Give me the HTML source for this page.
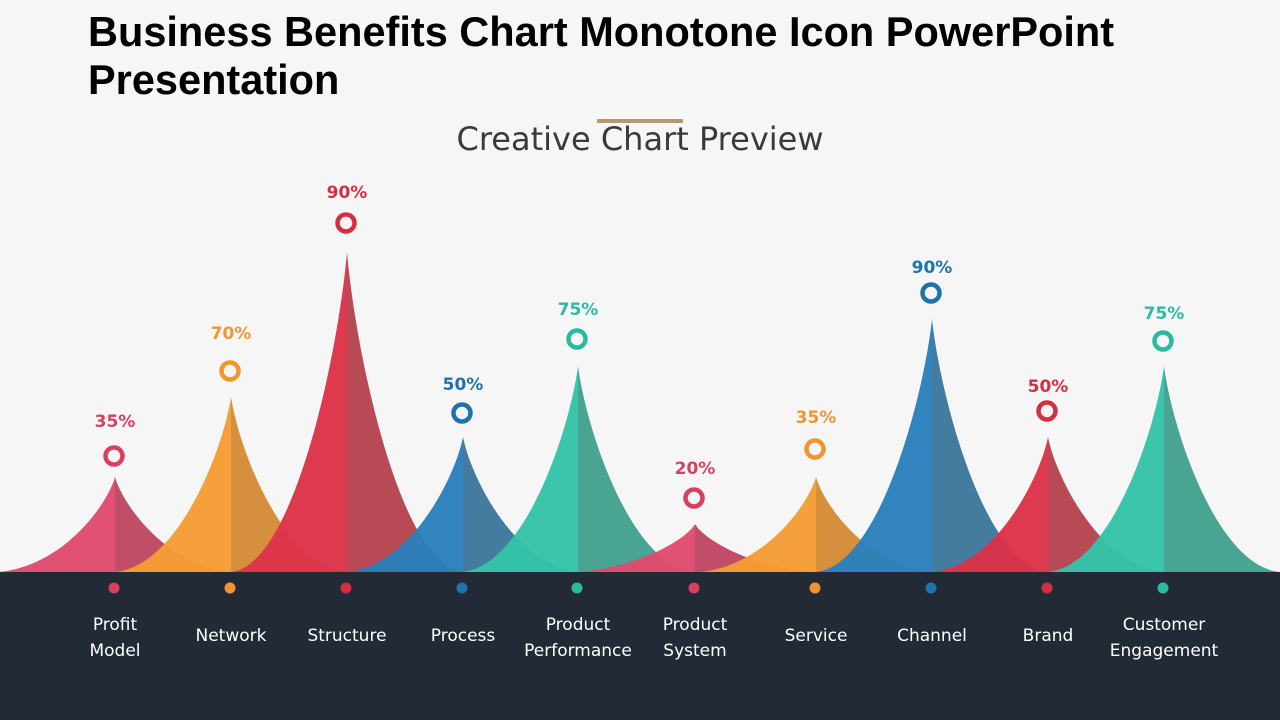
<!DOCTYPE html>
<html><head><meta charset="utf-8"><style>
body{margin:0;width:1280px;height:720px;overflow:hidden;background:#f6f6f6;font-family:"Liberation Sans",sans-serif}
</style></head><body>
<svg width="1280" height="720" viewBox="0 0 1280 720" xmlns="http://www.w3.org/2000/svg" style="position:absolute;left:0;top:0">
<rect width="1280" height="720" fill="#f6f6f6"/>
<text x="88" y="46" font-size="41.5" font-weight="bold" fill="#000" font-family="Liberation Sans, sans-serif">Business Benefits Chart Monotone Icon PowerPoint</text>
<text x="88" y="94" font-size="41.5" font-weight="bold" fill="#000" font-family="Liberation Sans, sans-serif">Presentation</text>
<rect x="597" y="119" width="86" height="4" fill="#b59a6c"/>
<text x="640" y="150" font-size="32" text-anchor="middle" fill="#3a3a3a" font-family="DejaVu Sans, sans-serif">Creative Chart Preview</text>
<g id="peaks"></g>
<rect x="0" y="572" width="1280" height="148" fill="#222a35"/>
<g id="bottom" font-family="DejaVu Sans, sans-serif" font-size="17" fill="#fff" text-anchor="middle"></g>
<g id="labels" font-family="DejaVu Sans, sans-serif" font-size="17" font-weight="bold" text-anchor="middle"></g>
</svg>
<script>
var d=[
[115,477,456,421,"35%","#e04a6e","#bd4762",["Profit","Model"]],
[231,397,371,333,"70%","#f59c33","#d48a35",["Network"]],
[347,252,223,192,"90%","#dc3249","#b5434f",["Structure"]],
[463,437,413,384,"50%","#2a7fbb","#3c779c",["Process"]],
[578,366,339,309,"75%","#33c4a9","#43a08e",["Product","Performance"]],
[695,524,498,468,"20%","#e04a6e","#bd4762",["Product","System"]],
[816,477,449,417,"35%","#f59c33","#d48a35",["Service"]],
[932,319,293,267,"90%","#2a7fbb","#3c779c",["Channel"]],
[1048,437,411,386,"50%","#dc3249","#b5434f",["Brand"]],
[1164,366,341,313,"75%","#33c4a9","#43a08e",["Customer","Engagement"]]];
var ns="http://www.w3.org/2000/svg",P=document.getElementById("peaks"),B=document.getElementById("bottom"),L=document.getElementById("labels");
function el(t,a,p,txt){var e=document.createElementNS(ns,t);for(var k in a)e.setAttribute(k,a[k]);if(txt)e.textContent=txt;p.appendChild(e);return e;}
var lab={"#e04a6e":"#d7405f","#f59c33":"#f0952f","#dc3249":"#d42e45","#2a7fbb":"#1f73ad","#33c4a9":"#2bbaa0"};
d.forEach(function(r){var x=r[0],y=r[1],w=116,h=572-y,b=572;
el("path",{d:"M"+(x-w)+","+b+" C"+(x-w*0.45)+","+(b-6)+" "+(x-8)+","+(y+h*0.3)+" "+x+","+y+" L"+x+","+b+"Z",fill:r[5],"fill-opacity":0.96},P);
el("path",{d:"M"+(x+w)+","+b+" C"+(x+w*0.45)+","+(b-6)+" "+(x+8)+","+(y+h*0.3)+" "+x+","+y+" L"+x+","+b+"Z",fill:r[6],"fill-opacity":0.96},P);
var c=lab[r[5]];
el("circle",{cx:x-1,cy:r[2],r:8.5,fill:"none",stroke:c,"stroke-width":4.5},L);
el("text",{x:x,y:r[3]+6,fill:c},L,r[4]);
el("circle",{cx:x-1,cy:588,r:5.5,fill:c},B);
if(r[7].length==1)el("text",{x:x,y:641},B,r[7][0]);
else{el("text",{x:x,y:630},B,r[7][0]);el("text",{x:x,y:656},B,r[7][1]);}
});
</script>
</body></html>
